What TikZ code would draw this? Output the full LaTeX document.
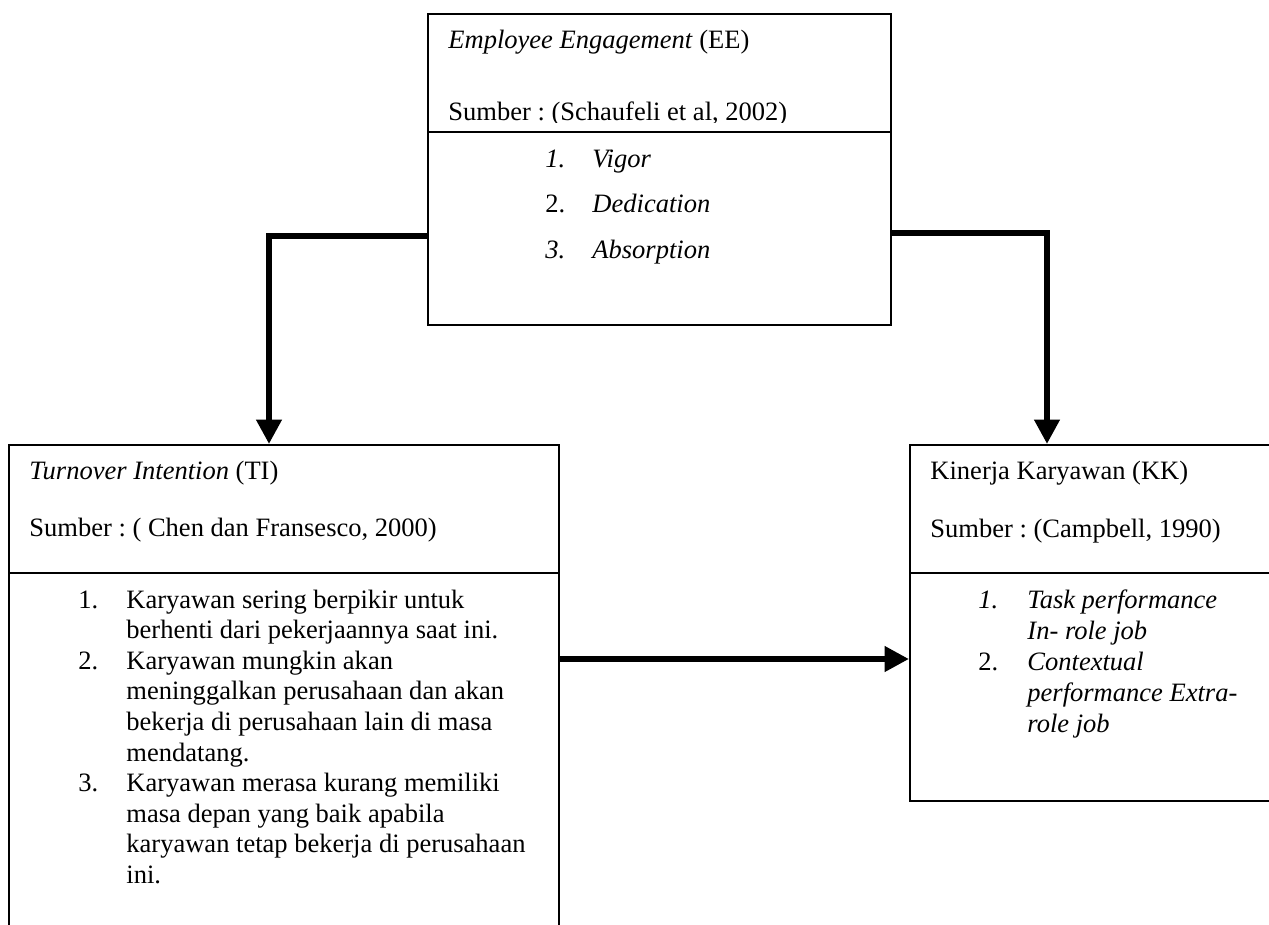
\documentclass[tikz,border=0pt]{standalone}
\usepackage{fontspec}
\setmainfont{Liberation Serif}
\usetikzlibrary{arrows.meta,calc}
\frenchspacing
\begin{document}
\begin{tikzpicture}[x=0.4525pt,y=-0.4525pt,
  box/.style={draw, line width=0.9pt, rectangle, anchor=north west, inner sep=0pt},
  divider/.style={line width=0.9pt},
  lbl/.style={anchor=base west, inner sep=0pt, font=\fontsize{12}{14}\selectfont\frenchspacing},
  conn/.style={line width=2.7pt, -{Triangle[length=11pt,width=11pt]}}]
\useasboundingbox (0,0) rectangle (1269,925);
\clip (0,0) rectangle (1269,925);
\fill[white] (0,0) rectangle (1269,925);

% boxes
\node[box, minimum width=209.5pt, minimum height=140.7pt] (ee) at (427,13) {};
\node[box, minimum width=248.9pt, minimum height=316.8pt] (ti) at (8,444) {};
\node[box, minimum width=181pt, minimum height=161.1pt] (kk) at (909,444) {};

% dividers
\draw[divider] ($(ee.north west)+(0,119)$) -- ($(ee.north east)+(0,119)$);
\draw[divider] ($(ti.north west)+(0,129)$) -- ($(ti.north east)+(0,129)$);
\draw[divider] ($(kk.north west)+(0,129)$) -- ($(kk.north east)+(0,129)$);

% EE texts
\node[lbl] (eeT) at (448,48) {\textit{Employee Engagement} (EE)};
\begin{scope}
\clip (427,0) rectangle (890,122);
\node[lbl] (eeS) at (448,120) {Sumber : (Schaufeli et al, 2002)};
\end{scope}
\node[lbl] (eeN1) at (545,167) {\textit{1.}};
\node[lbl] (eeI1) at (592,167) {\textit{Vigor}};
\node[lbl] (eeN2) at (545,212) {2.};
\node[lbl] (eeI2) at (592,212) {\textit{Dedication}};
\node[lbl] (eeN3) at (545,258) {\textit{3.}};
\node[lbl] (eeI3) at (592,258) {\textit{Absorption}};

% TI texts
\node[lbl] (tiT) at (29,479) {\textit{Turnover Intention} (TI)};
\node[lbl] (tiS) at (29,536) {Sumber : ( Chen dan Fransesco, 2000)};
\node[lbl] (tiN1) at (78,608) {1.};
\node[lbl] (tiL1) at (126,608) {Karyawan sering berpikir untuk};
\node[lbl] (tiL2) at (126,638.6) {berhenti dari pekerjaannya saat ini.};
\node[lbl] (tiN2) at (78,669.2) {2.};
\node[lbl] (tiL3) at (126,669.2) {Karyawan mungkin akan};
\node[lbl] (tiL4) at (126,699.8) {meninggalkan perusahaan dan akan};
\node[lbl] (tiL5) at (126,730.4) {bekerja di perusahaan lain di masa};
\node[lbl] (tiL6) at (126,761) {mendatang.};
\node[lbl] (tiN3) at (78,791.6) {3.};
\node[lbl] (tiL7) at (126,791.6) {Karyawan merasa kurang memiliki};
\node[lbl] (tiL8) at (126,822.2) {masa depan yang baik apabila};
\node[lbl] (tiL9) at (126,852.8) {karyawan tetap bekerja di perusahaan};
\node[lbl] (tiL10) at (126,883.4) {ini.};

% KK texts
\node[lbl] (kkT) at (930,479) {Kinerja Karyawan (KK)};
\node[lbl] (kkS) at (930,537) {Sumber : (Campbell, 1990)};
\node[lbl] (kkN1) at (978,608) {\textit{1.}};
\node[lbl] (kkL1) at (1027,608) {\textit{Task performance}};
\node[lbl] (kkL2) at (1027,639) {\textit{In- role job}};
\node[lbl] (kkN2) at (978,670) {2.};
\node[lbl] (kkL3) at (1027,670) {\textit{Contextual}};
\node[lbl] (kkL4) at (1027,701) {\textit{performance Extra-}};
\node[lbl] (kkL5) at (1027,732) {\textit{role job}};

% connectors
\draw[conn] ($(ee.north west)+(0,223)$) -| ($(ti.north west)+(261,0)$);
\draw[conn] ($(ee.north east)+(0,220)$) -| ($(kk.north west)+(138,0)$);
\draw[conn] ($(ti.north east)+(0,215)$) -- ($(kk.north west)+(0,215)$);
\end{tikzpicture}
\end{document}
